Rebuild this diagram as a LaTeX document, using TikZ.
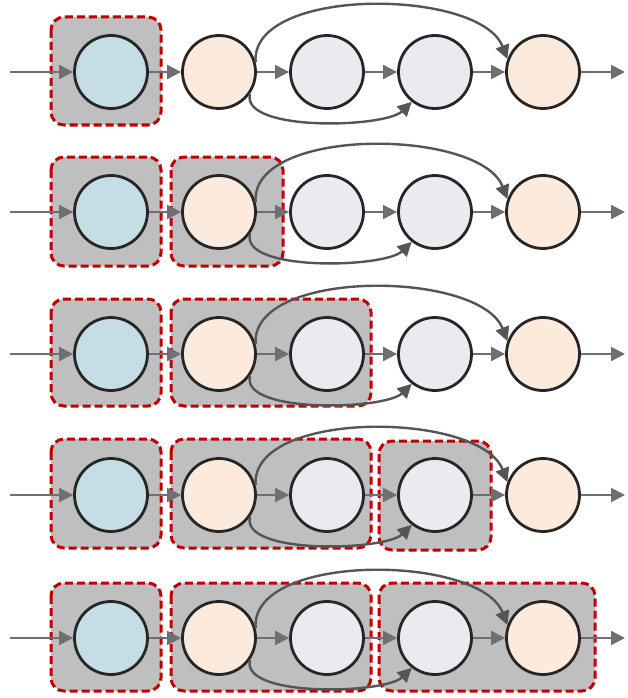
\documentclass[tikz,border=0pt]{standalone}
\usetikzlibrary{arrows.meta}
\definecolor{cblue}{HTML}{C5DDE5}
\definecolor{cpeach}{HTML}{FCEBDD}
\definecolor{clav}{HTML}{ECEAF1}
\definecolor{arrowgray}{HTML}{6E6E73}
\definecolor{curvegray}{HTML}{555558}
\definecolor{boxred}{HTML}{C00000}
\definecolor{boxfill}{HTML}{BFBFBF}
\definecolor{ringblack}{HTML}{262626}
\begin{document}
\begin{tikzpicture}[x=1pt,y=-1pt,
  state/.style={circle,draw=ringblack,line width=2.8pt,minimum size=73pt,inner sep=0pt},
  flow/.style={draw=arrowgray,line width=2pt,-{Triangle[length=14pt,width=14pt]}},
  skip/.style={draw=curvegray,line width=2.4pt,-{Triangle[length=14pt,width=14pt]}},
  grp/.style={draw=boxred,fill=boxfill,line width=3pt,dash pattern=on 8pt off 4pt,rounded corners=13pt}]
\useasboundingbox (0,0) rectangle (628,698);
% groups
\draw[grp] (51,17) rectangle (161,125);
\draw[grp] (51,157) rectangle (161,266);
\draw[grp] (171,157) rectangle (283,266);
\draw[grp] (51,299) rectangle (161,406);
\draw[grp] (171,299) rectangle (371,406);
\draw[grp] (51,439) rectangle (161,548);
\draw[grp] (171,439) rectangle (371,548);
\draw[grp] (379,441) rectangle (491,550);
\draw[grp] (51,583) rectangle (161,691);
\draw[grp] (171,583) rectangle (371,691);
\draw[grp] (379,583) rectangle (595,691);
\foreach \i/\y in {1/72,2/212,3/354,4/495,5/638}{
  \coordinate (in\i) at (10,\y);
  \coordinate (out\i) at (625,\y);
  \node[state,fill=cblue] (c\i1) at (111,\y) {};
  \node[state,fill=cpeach] (c\i2) at (219,\y) {};
  \node[state,fill=clav] (c\i3) at (327,\y) {};
  \node[state,fill=clav] (c\i4) at (435,\y) {};
  \node[state,fill=cpeach] (c\i5) at (543,\y) {};
  \draw[flow] (in\i) -- (c\i1);
  \draw[flow] (c\i1) -- (c\i2);
  \draw[flow] (c\i2) -- (c\i3);
  \draw[flow] (c\i3) -- (c\i4);
  \draw[flow] (c\i4) -- (c\i5);
  \draw[flow] (c\i5) -- (out\i);
  \draw[skip] (c\i2.15) .. controls (250,\y-86) and (480,\y-84) .. (c\i5.160);
  \draw[skip] (c\i2.-35) .. controls (240,\y+60) and (385,\y+56) .. (c\i4.-128);
}
\end{tikzpicture}
\end{document}
